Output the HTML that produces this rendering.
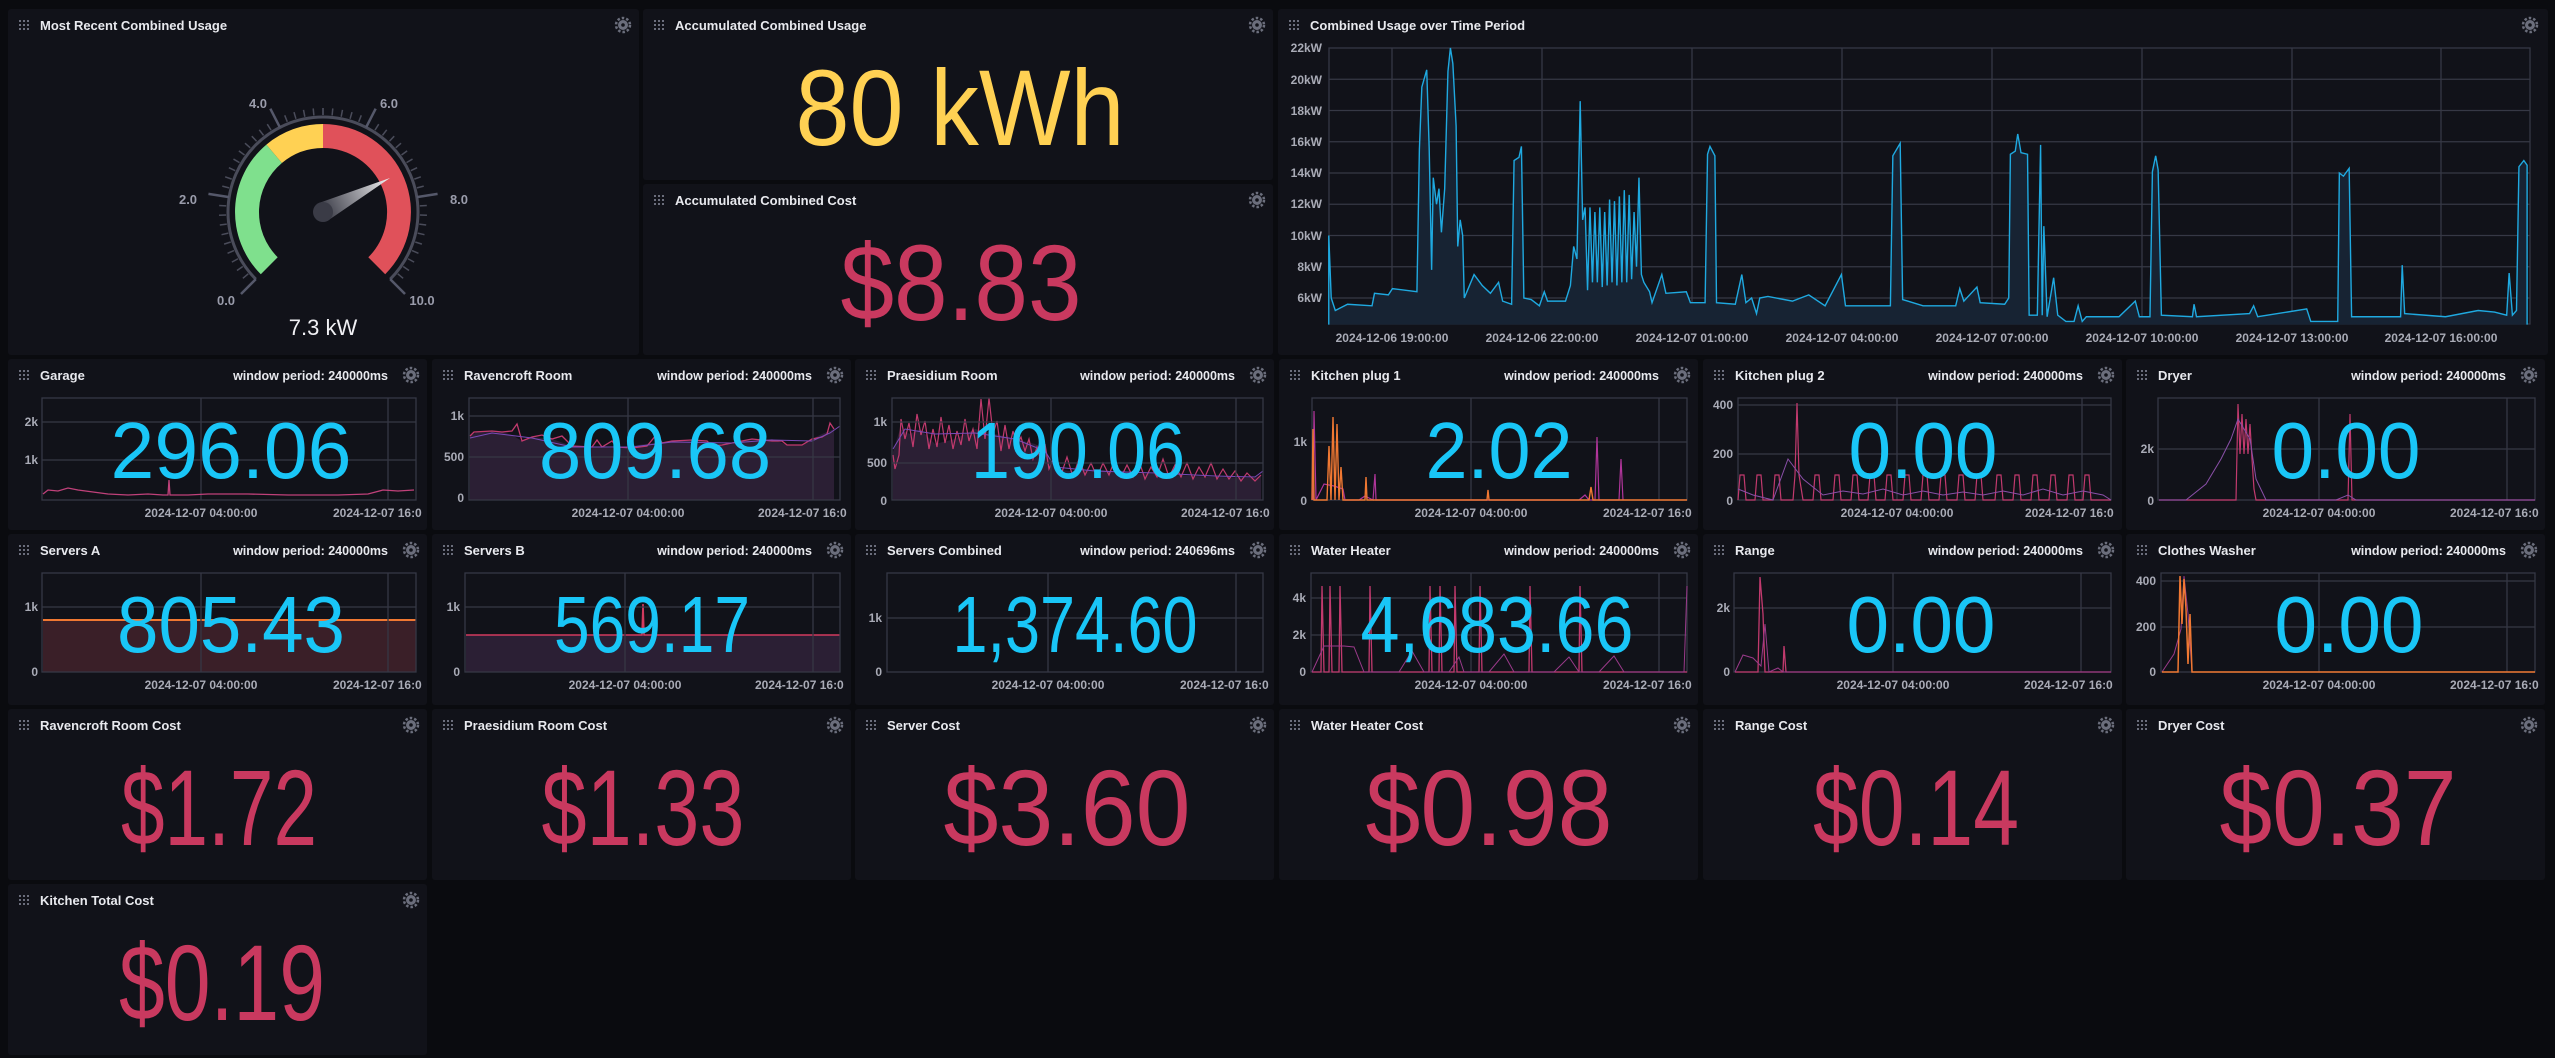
<!DOCTYPE html>
<html><head><meta charset="utf-8"><style>
html,body{margin:0;padding:0;background:#0a0b0f;width:2555px;height:1058px;overflow:hidden}
svg{display:block}
.t{font-family:"Liberation Sans",sans-serif;font-weight:bold;font-size:13px;fill:#e8e9ee}
.wp{font-family:"Liberation Sans",sans-serif;font-weight:bold;font-size:12.5px;fill:#e8e9ee;text-anchor:end}
.ax{font-family:"Liberation Sans",sans-serif;font-weight:bold;font-size:12px;fill:#a9abb6}
.big{font-family:"DejaVu Sans ExtraLight","Liberation Sans",sans-serif;font-weight:200;text-anchor:middle}
.g{stroke:#363845;stroke-width:1.3;fill:none}
.pl{fill:#111219}
</style></head><body>
<svg width="2555" height="1058" viewBox="0 0 2555 1058">
<defs>
<g id="dots" fill="#6b6e7c"><rect x="0" y="0" width="2" height="2"/><rect x="4" y="0" width="2" height="2"/><rect x="8" y="0" width="2" height="2"/><rect x="0" y="4" width="2" height="2"/><rect x="4" y="4" width="2" height="2"/><rect x="8" y="4" width="2" height="2"/><rect x="0" y="8" width="2" height="2"/><rect x="4" y="8" width="2" height="2"/><rect x="8" y="8" width="2" height="2"/></g>
<g id="gear"><circle r="5" fill="#6b6e7c"/><circle r="7" fill="none" stroke="#6b6e7c" stroke-width="2.5" stroke-dasharray="2.5 2"/><circle r="1.8" fill="#111219"/></g>
<linearGradient id="ng" gradientUnits="userSpaceOnUse" x1="0" y1="0" x2="67" y2="-34"><stop offset="0" stop-color="#3a3b46"/><stop offset="1" stop-color="#f2f2f4"/></linearGradient>
</defs>

<!-- Row 1 panels -->
<rect class="pl" x="8" y="9" width="631" height="346" rx="3"/>
<use href="#dots" x="19" y="20"/><text class="t" x="40" y="30">Most Recent Combined Usage</text><use href="#gear" x="623" y="25"/>
<rect class="pl" x="643" y="9" width="630" height="171" rx="3"/>
<use href="#dots" x="654" y="20"/><text class="t" x="675" y="30">Accumulated Combined Usage</text><use href="#gear" x="1257" y="25"/>
<text class="big" x="960" y="145" font-size="108" fill="#ffd153" textLength="329" lengthAdjust="spacingAndGlyphs">80 kWh</text>
<rect class="pl" x="643" y="184" width="630" height="171" rx="3"/>
<use href="#dots" x="654" y="195"/><text class="t" x="675" y="205">Accumulated Combined Cost</text><use href="#gear" x="1257" y="200"/>
<text class="big" x="961" y="320" font-size="108" fill="#c9395f" textLength="241" lengthAdjust="spacingAndGlyphs">$8.83</text>

<!-- Gauge -->
<g transform="translate(323,212)">
  <path d="M -67.2 67.2 A 95 95 0 1 1 67.2 67.2" fill="none" stroke="#4a4c5a" stroke-width="3"/>
  <g stroke="#4a4c5a" stroke-width="1.5">
    <g id="tk">
    <line x1="0" y1="-97" x2="0" y2="-104" transform="rotate(-135)"/><line x1="0" y1="-97" x2="0" y2="-104" transform="rotate(-129.6)"/><line x1="0" y1="-97" x2="0" y2="-104" transform="rotate(-124.2)"/><line x1="0" y1="-97" x2="0" y2="-104" transform="rotate(-118.8)"/><line x1="0" y1="-97" x2="0" y2="-104" transform="rotate(-113.4)"/><line x1="0" y1="-97" x2="0" y2="-104" transform="rotate(-108)"/><line x1="0" y1="-97" x2="0" y2="-104" transform="rotate(-102.6)"/><line x1="0" y1="-97" x2="0" y2="-104" transform="rotate(-97.2)"/><line x1="0" y1="-97" x2="0" y2="-104" transform="rotate(-91.8)"/><line x1="0" y1="-97" x2="0" y2="-104" transform="rotate(-86.4)"/><line x1="0" y1="-97" x2="0" y2="-104" transform="rotate(-81)"/><line x1="0" y1="-97" x2="0" y2="-104" transform="rotate(-75.6)"/><line x1="0" y1="-97" x2="0" y2="-104" transform="rotate(-70.2)"/><line x1="0" y1="-97" x2="0" y2="-104" transform="rotate(-64.8)"/><line x1="0" y1="-97" x2="0" y2="-104" transform="rotate(-59.4)"/><line x1="0" y1="-97" x2="0" y2="-104" transform="rotate(-54)"/><line x1="0" y1="-97" x2="0" y2="-104" transform="rotate(-48.6)"/><line x1="0" y1="-97" x2="0" y2="-104" transform="rotate(-43.2)"/><line x1="0" y1="-97" x2="0" y2="-104" transform="rotate(-37.8)"/><line x1="0" y1="-97" x2="0" y2="-104" transform="rotate(-32.4)"/><line x1="0" y1="-97" x2="0" y2="-104" transform="rotate(-27)"/><line x1="0" y1="-97" x2="0" y2="-104" transform="rotate(-21.6)"/><line x1="0" y1="-97" x2="0" y2="-104" transform="rotate(-16.2)"/><line x1="0" y1="-97" x2="0" y2="-104" transform="rotate(-10.8)"/><line x1="0" y1="-97" x2="0" y2="-104" transform="rotate(-5.4)"/><line x1="0" y1="-97" x2="0" y2="-104" transform="rotate(0)"/>
    </g>
    <use href="#tk" transform="scale(-1,1)"/>
  </g>
  <g stroke="#55586a" stroke-width="2.5">
    <line x1="0" y1="-95" x2="0" y2="-116" transform="rotate(-135)"/><line x1="0" y1="-95" x2="0" y2="-116" transform="rotate(-81)"/><line x1="0" y1="-95" x2="0" y2="-116" transform="rotate(-27)"/><line x1="0" y1="-95" x2="0" y2="-116" transform="rotate(27)"/><line x1="0" y1="-95" x2="0" y2="-116" transform="rotate(81)"/><line x1="0" y1="-95" x2="0" y2="-116" transform="rotate(135)"/>
  </g>
  <path d="M -62.2 62.2 A 88 88 0 0 1 -56.6 -67.4 L -41.1 -49 A 64 64 0 0 0 -45.3 45.3 Z" fill="#7fe08d"/>
  <path d="M -56.6 -67.4 A 88 88 0 0 1 0 -88 L 0 -64 A 64 64 0 0 0 -41.1 -49 Z" fill="#ffd153"/>
  <path d="M 0 -88 A 88 88 0 0 1 62.2 62.2 L 45.3 45.3 A 64 64 0 0 0 0 -64 Z" fill="#e0515a"/>
  <g font-family="Liberation Sans,sans-serif" font-size="13" font-weight="bold" fill="#9a9cab" text-anchor="middle">
    <text x="-97" y="93">0.0</text><text x="-135" y="-8">2.0</text><text x="-65" y="-104">4.0</text><text x="66" y="-104">6.0</text><text x="136" y="-8">8.0</text><text x="99" y="93">10.0</text>
  </g>
  <path d="M -4.5 -8.9 L 67 -34 L 4.5 8.9 Z" fill="url(#ng)"/>
  <circle cx="0" cy="0" r="10" fill="#3a3b46"/>
  <text x="0" y="123" font-family="Liberation Sans,sans-serif" font-size="22" fill="#f0f0f4" text-anchor="middle">7.3 kW</text>
</g>

<!-- Combined chart -->
<rect class="pl" x="1278" y="9" width="1270" height="346" rx="3"/>
<use href="#dots" x="1289" y="20"/><text class="t" x="1310" y="30">Combined Usage over Time Period</text><use href="#gear" x="2530" y="25"/>
<g class="g">
<rect x="1329" y="48" width="1201" height="276"/>
<line x1="1329" x2="2530" y1="79.25" y2="79.25"/><line x1="1329" x2="2530" y1="110.5" y2="110.5"/><line x1="1329" x2="2530" y1="141.75" y2="141.75"/><line x1="1329" x2="2530" y1="173" y2="173"/><line x1="1329" x2="2530" y1="204.25" y2="204.25"/><line x1="1329" x2="2530" y1="235.5" y2="235.5"/><line x1="1329" x2="2530" y1="266.75" y2="266.75"/><line x1="1329" x2="2530" y1="298" y2="298"/>
<line x1="1392" x2="1392" y1="48" y2="324"/><line x1="1542" x2="1542" y1="48" y2="324"/><line x1="1692" x2="1692" y1="48" y2="324"/><line x1="1842" x2="1842" y1="48" y2="324"/><line x1="1992" x2="1992" y1="48" y2="324"/><line x1="2142" x2="2142" y1="48" y2="324"/><line x1="2292" x2="2292" y1="48" y2="324"/><line x1="2441" x2="2441" y1="48" y2="324"/>
</g>
<g class="ax" text-anchor="end">
<text x="1322" y="52">22kW</text><text x="1322" y="84">20kW</text><text x="1322" y="115">18kW</text><text x="1322" y="146">16kW</text><text x="1322" y="177">14kW</text><text x="1322" y="208">12kW</text><text x="1322" y="240">10kW</text><text x="1322" y="271">8kW</text><text x="1322" y="302">6kW</text>
</g>
<g class="ax" text-anchor="middle">
<text x="1392" y="342">2024-12-06 19:00:00</text><text x="1542" y="342">2024-12-06 22:00:00</text><text x="1692" y="342">2024-12-07 01:00:00</text><text x="1842" y="342">2024-12-07 04:00:00</text><text x="1992" y="342">2024-12-07 07:00:00</text><text x="2142" y="342">2024-12-07 10:00:00</text><text x="2292" y="342">2024-12-07 13:00:00</text><text x="2441" y="342">2024-12-07 16:00:00</text>
</g>
<g transform="matrix(0.8163 0 0 -15.625 1270 391.75)">
<polyline vector-effect="non-scaling-stroke" fill="#172333" stroke="#1fa9e0" stroke-width="1.4" points="72,4.3 72,10 75,6 80,5.2 95,5.6 125,5.5 128,6.3 145,6.2 150,6.6 180,6.4 183,15.5 186,19.5 192,20.6 195,15.6 198,7.8 200,13.7 204,12 207,13 210,10.2 214,13 218,20.5 221,22 224,21 228,17 230,9.3 233,11 236,10 238,6 250,7.5 260,6.8 270,6.3 280,7 285,5.8 296,5.6 299,14.8 305,15 308,15.7 311,6 320,5.9 330,5.5 336,6.4 340,5.8 362,5.8 368,6.8 372,9.3 376,8.5 380,18.6 383,11 386,11.8 389,6.5 392,11.8 395,7 398,11.5 401,7 404,11.8 407,6.7 410,11.5 413,6.8 416,12.3 419,7 422,12.2 425,6.8 428,12.5 431,7 434,12.9 437,7 440,12.6 443,7.2 446,11.5 449,8 452,13.7 455,7.5 458,7 465,6.4 468,5.7 480,7.5 485,6.3 510,6.4 515,5.7 533,5.7 536,15.2 539,15.7 545,15.1 547,5.7 570,5.6 578,7.5 583,5.7 590,6 596,5 600,6 610,6.1 640,5.8 660,6.2 680,5.5 700,7.5 705,5.5 760,5.5 763,15.1 772,15.9 775,5.9 800,5.5 840,5.5 845,6.6 850,5.8 866,6.7 870,5.7 900,5.6 905,6 907,15.2 913,15.4 916,16.5 920,15.3 928,15.2 930,4.9 940,4.9 944,15.8 946,4.9 948,10.6 952,4.8 960,7.3 965,4.9 975,4.5 985,4.5 990,5.5 995,4.5 1000,4.8 1040,4.8 1060,5.8 1065,4.8 1078,4.8 1081,14.1 1085,15.1 1088,14.2 1092,4.9 1130,4.8 1132,5.6 1135,4.8 1200,5 1205,5.5 1210,4.8 1270,5.3 1275,4.5 1300,4.5 1308,4.5 1310,14 1315,13.8 1322,14.3 1325,4.8 1385,4.8 1387,8.1 1390,5 1440,4.8 1480,5.2 1500,5.1 1515,4.9 1518,7.6 1522,4.9 1527,5.2 1530,14.4 1536,14.8 1540,14.5 1540,4.3"/>
</g>

<!-- Row 2 -->
<g transform="translate(8,359)">
<rect class="pl" width="419" height="171" rx="3"/><use href="#dots" x="11" y="11"/><text class="t" x="32" y="21">Garage</text><text class="wp" x="380" y="21">window period: 240000ms</text><use href="#gear" x="403" y="16"/>
<g class="g"><rect x="34" y="39" width="374" height="102"/><line x1="34" x2="408" y1="63" y2="63"/><line x1="34" x2="408" y1="101" y2="101"/><line x1="193" x2="193" y1="39" y2="141"/><line x1="380" x2="380" y1="39" y2="141"/></g>
<g class="ax" text-anchor="end"><text x="30" y="67">2k</text><text x="30" y="105">1k</text></g>
<g class="ax" text-anchor="middle"><text x="193" y="158">2024-12-07 04:00:00</text></g><text class="ax" x="325" y="158">2024-12-07 16:0</text>
<polyline fill="none" stroke="#c0417a" stroke-width="1.3" points="35,135 40,131 50,132 60,129 70,131 85,133 100,135 120,136 140,135 155,136 160,136 161,121 162,136 180,136 200,135 240,135 280,136 330,136 360,135 375,131 390,132 406,131"/>
<text class="big" x="223" y="119" font-size="80" fill="#19c6f7" textLength="241" lengthAdjust="spacingAndGlyphs">296.06</text>
</g>

<g transform="translate(432,359)">
<rect class="pl" width="419" height="171" rx="3"/><use href="#dots" x="11" y="11"/><text class="t" x="32" y="21">Ravencroft Room</text><text class="wp" x="380" y="21">window period: 240000ms</text><use href="#gear" x="403" y="16"/>
<polygon fill="#2b1f34" points="38,141 38,77 45,73 60,72 70,73 80,76 90,82 100,78 120,80 140,87 160,88 180,89 200,87 220,84 240,82 260,82 275,82 290,86 300,85 320,80 340,80 355,86 370,86 380,80 390,75 402,70 402,141"/>
<polyline fill="none" stroke="#c23a6e" stroke-width="1.3" points="38,77 42,73 60,72 70,73 80,72 85,65 90,82 100,78 110,76 120,80 130,77 140,87 160,88 165,81 170,88 180,82 185,88 200,89 215,87 225,75 230,84 240,82 260,81 275,82 280,87 290,86 300,84 320,80 340,82 350,82 355,86 370,86 380,80 390,78 395,75 398,64 402,70"/>
<polyline fill="none" stroke="#7a4ab8" stroke-width="1" points="38,79 60,74 100,79 140,88 200,88 240,83 300,84 340,81 380,82 398,74 408,67"/>
<g class="g"><rect x="37" y="39" width="371" height="102"/><line x1="37" x2="408" y1="57" y2="57"/><line x1="37" x2="408" y1="98" y2="98"/><line x1="196" x2="196" y1="39" y2="141"/><line x1="381" x2="381" y1="39" y2="141"/></g>
<g class="ax" text-anchor="end"><text x="32" y="61">1k</text><text x="32" y="102">500</text><text x="32" y="143">0</text></g>
<g class="ax" text-anchor="middle"><text x="196" y="158">2024-12-07 04:00:00</text></g><text class="ax" x="326" y="158">2024-12-07 16:0</text>
<text class="big" x="223" y="119" font-size="80" fill="#19c6f7" textLength="232" lengthAdjust="spacingAndGlyphs">809.68</text>
</g>

<g transform="translate(855,359)">
<rect class="pl" width="419" height="171" rx="3"/><use href="#dots" x="11" y="11"/><text class="t" x="32" y="21">Praesidium Room</text><text class="wp" x="380" y="21">window period: 240000ms</text><use href="#gear" x="403" y="16"/>
<polygon fill="#2b1f34" points="38,141 38,93 45,70 55,75 65,70 80,85 100,80 120,70 140,75 160,80 180,85 190,90 200,110 215,112 240,110 260,113 300,115 340,117 360,118 400,119 406,116 406,141"/>
<polyline fill="none" stroke="#c23a6e" stroke-width="1.2" points="38,96 40,110 44,96 46,60 50,80 54,64 58,88 62,55 66,76 70,62 74,90 78,70 82,88 86,58 90,84 94,66 98,90 102,72 106,86 110,60 114,82 118,70 122,90 126,40 130,80 134,39 138,75 142,62 146,92 150,66 154,90 158,72 162,86 166,78 170,92 174,80 178,100 182,88 186,102 190,85 194,110 200,96 206,116 212,98 218,118 224,100 230,116 236,104 242,118 248,104 254,116 260,100 266,118 272,106 278,118 284,102 290,120 296,108 302,118 308,100 314,118 320,106 326,118 332,104 338,120 344,108 350,118 356,104 362,120 368,110 374,120 380,112 386,122 392,114 400,122 406,116"/>
<polyline fill="none" stroke="#7a4ab8" stroke-width="1" points="38,90 50,70 80,75 120,74 160,80 190,92 200,108 240,112 300,114 360,117 400,118 408,112"/>
<g class="g"><rect x="37" y="39" width="371" height="102"/><line x1="37" x2="408" y1="63" y2="63"/><line x1="37" x2="408" y1="104" y2="104"/><line x1="196" x2="196" y1="39" y2="141"/><line x1="381" x2="381" y1="39" y2="141"/></g>
<g class="ax" text-anchor="end"><text x="32" y="67">1k</text><text x="32" y="108">500</text><text x="32" y="146">0</text></g>
<g class="ax" text-anchor="middle"><text x="196" y="158">2024-12-07 04:00:00</text></g><text class="ax" x="326" y="158">2024-12-07 16:0</text>
<text class="big" x="223" y="119" font-size="80" fill="#19c6f7" textLength="214" lengthAdjust="spacingAndGlyphs">190.06</text>
</g>

<g transform="translate(1279,359)">
<rect class="pl" width="419" height="171" rx="3"/><use href="#dots" x="11" y="11"/><text class="t" x="32" y="21">Kitchen plug 1</text><text class="wp" x="380" y="21">window period: 240000ms</text><use href="#gear" x="403" y="16"/>
<g class="g"><rect x="33" y="39" width="375" height="102"/><line x1="33" x2="408" y1="83" y2="83"/><line x1="192" x2="192" y1="39" y2="141"/><line x1="380" x2="380" y1="39" y2="141"/></g>
<g class="ax" text-anchor="end"><text x="28" y="87">1k</text><text x="28" y="146">0</text></g>
<g class="ax" text-anchor="middle"><text x="192" y="158">2024-12-07 04:00:00</text></g><text class="ax" x="324" y="158">2024-12-07 16:0</text>
<polyline fill="none" stroke="#b0359a" stroke-width="1.2" points="34,141 35,52 37,141 45,125 55,127 64,130 66,141 80,141 86,137 90,139 94,141 96,115 97,141 300,141 306,136 310,141 316,141 318,78 320,141 340,141 342,100 344,141"/>
<polyline fill="none" stroke="#f07832" stroke-width="1.4" points="33,141 34,70 35,141 48,141 50,87 52,141 54,58 56,141 58,65 60,141 62,108 64,141 86,141 87,118 88,141 200,141 208,141 209,131 210,141 310,141 312,128 314,141 350,141 408,141"/>
<text class="big" x="220" y="119" font-size="80" fill="#19c6f7" textLength="147" lengthAdjust="spacingAndGlyphs">2.02</text>
</g>

<g transform="translate(1703,359)">
<rect class="pl" width="419" height="171" rx="3"/><use href="#dots" x="11" y="11"/><text class="t" x="32" y="21">Kitchen plug 2</text><text class="wp" x="380" y="21">window period: 240000ms</text><use href="#gear" x="403" y="16"/>
<g class="g"><rect x="35" y="39" width="373" height="102"/><line x1="35" x2="408" y1="46" y2="46"/><line x1="35" x2="408" y1="95" y2="95"/><line x1="194" x2="194" y1="39" y2="141"/><line x1="379" x2="379" y1="39" y2="141"/></g>
<g class="ax" text-anchor="end"><text x="30" y="50">400</text><text x="30" y="99">200</text><text x="30" y="146">0</text></g>
<g class="ax" text-anchor="middle"><text x="194" y="158">2024-12-07 04:00:00</text></g><text class="ax" x="322" y="158">2024-12-07 16:0</text>
<polyline fill="none" stroke="#c23a6e" stroke-width="1.2" points="35,141 37,116 41,116 43,141 52,141 54,116 58,116 60,141 70,141 72,116 76,116 78,141 90,141 92,116 94,44 96,116 100,141 110,141 112,116 116,116 118,141 130,141 132,116 136,116 138,141 148,141 150,116 154,116 156,141 165,141 167,116 171,116 173,141 182,141 184,116 188,116 190,141 200,141 202,116 206,116 208,141 218,141 220,116 224,116 226,141 236,141 238,116 242,116 244,141 254,141 256,116 260,116 262,141 272,141 274,116 278,116 280,141 292,141 294,116 298,116 300,141 310,141 312,116 316,116 318,141 328,141 330,116 334,116 336,141 346,141 348,116 352,116 354,141 364,141 366,116 370,116 372,141 380,141 382,116 386,116 388,141 408,141"/>
<polyline fill="none" stroke="#8a4fa8" stroke-width="1" points="35,130 50,136 70,141 85,100 100,120 120,136 140,132 160,135 180,130 200,136 220,132 240,136 260,133 280,136 300,132 320,136 340,130 360,136 380,132 400,136 408,141"/>
<text class="big" x="220" y="119" font-size="80" fill="#19c6f7" textLength="149" lengthAdjust="spacingAndGlyphs">0.00</text>
</g>

<g transform="translate(2126,359)">
<rect class="pl" width="419" height="171" rx="3"/><use href="#dots" x="11" y="11"/><text class="t" x="32" y="21">Dryer</text><text class="wp" x="380" y="21">window period: 240000ms</text><use href="#gear" x="403" y="16"/>
<g class="g"><rect x="32" y="39" width="377" height="102"/><line x1="32" x2="409" y1="90" y2="90"/><line x1="193" x2="193" y1="39" y2="141"/><line x1="381" x2="381" y1="39" y2="141"/></g>
<g class="ax" text-anchor="end"><text x="28" y="94">2k</text><text x="28" y="146">0</text></g>
<g class="ax" text-anchor="middle"><text x="193" y="158">2024-12-07 04:00:00</text></g><text class="ax" x="324" y="158">2024-12-07 16:0</text>
<polyline fill="none" stroke="#c23a6e" stroke-width="1.2" points="33,141 110,141 112,45 114,95 116,55 118,95 120,60 122,95 124,65 126,100 128,130 130,141 222,141 224,55 226,141 409,141"/>
<polyline fill="none" stroke="#8a4fa8" stroke-width="1" points="33,141 60,141 80,125 95,100 105,80 112,60 118,70 124,80 130,120 140,141 210,141 222,136 230,141 409,141"/>
<text class="big" x="220" y="119" font-size="80" fill="#19c6f7" textLength="149" lengthAdjust="spacingAndGlyphs">0.00</text>
</g>

<!-- Row 3 -->
<g transform="translate(8,534)">
<rect class="pl" width="419" height="171" rx="3"/><use href="#dots" x="11" y="11"/><text class="t" x="32" y="21">Servers A</text><text class="wp" x="380" y="21">window period: 240000ms</text><use href="#gear" x="403" y="16"/>
<rect x="35" y="86" width="373" height="52" fill="#3a1f28"/>
<line x1="35" x2="408" y1="86" y2="86" stroke="#f07832" stroke-width="2"/>
<g class="g"><rect x="34" y="39" width="374" height="99"/><line x1="34" x2="408" y1="73" y2="73"/><line x1="193" x2="193" y1="39" y2="138"/><line x1="380" x2="380" y1="39" y2="138"/></g>
<g class="ax" text-anchor="end"><text x="30" y="77">1k</text><text x="30" y="142">0</text></g>
<g class="ax" text-anchor="middle"><text x="193" y="155">2024-12-07 04:00:00</text></g><text class="ax" x="325" y="155">2024-12-07 16:0</text>
<text class="big" x="223" y="118" font-size="80" fill="#19c6f7" textLength="228" lengthAdjust="spacingAndGlyphs">805.43</text>
</g>

<g transform="translate(432,534)">
<rect class="pl" width="419" height="171" rx="3"/><use href="#dots" x="11" y="11"/><text class="t" x="32" y="21">Servers B</text><text class="wp" x="380" y="21">window period: 240000ms</text><use href="#gear" x="403" y="16"/>
<rect x="34" y="101" width="374" height="37" fill="#2b1f34"/>
<polyline fill="none" stroke="#d23a5e" stroke-width="1.6" points="34,101 210,101 211,70 212,101 408,101"/>
<g class="g"><rect x="33" y="39" width="375" height="99"/><line x1="33" x2="408" y1="73" y2="73"/><line x1="193" x2="193" y1="39" y2="138"/><line x1="381" x2="381" y1="39" y2="138"/></g>
<g class="ax" text-anchor="end"><text x="28" y="77">1k</text><text x="28" y="142">0</text></g>
<g class="ax" text-anchor="middle"><text x="193" y="155">2024-12-07 04:00:00</text></g><text class="ax" x="323" y="155">2024-12-07 16:0</text>
<text class="big" x="220" y="118" font-size="80" fill="#19c6f7" textLength="196" lengthAdjust="spacingAndGlyphs">569.17</text>
</g>

<g transform="translate(855,534)">
<rect class="pl" width="419" height="171" rx="3"/><use href="#dots" x="11" y="11"/><text class="t" x="32" y="21">Servers Combined</text><text class="wp" x="380" y="21">window period: 240696ms</text><use href="#gear" x="403" y="16"/>
<g class="g"><rect x="32" y="39" width="376" height="99"/><line x1="32" x2="408" y1="84" y2="84"/><line x1="193" x2="193" y1="39" y2="138"/><line x1="381" x2="381" y1="39" y2="138"/></g>
<g class="ax" text-anchor="end"><text x="27" y="88">1k</text><text x="27" y="142">0</text></g>
<g class="ax" text-anchor="middle"><text x="193" y="155">2024-12-07 04:00:00</text></g><text class="ax" x="325" y="155">2024-12-07 16:0</text>
<text class="big" x="220" y="118" font-size="80" fill="#19c6f7" textLength="245" lengthAdjust="spacingAndGlyphs">1,374.60</text>
</g>

<g transform="translate(1279,534)">
<rect class="pl" width="419" height="171" rx="3"/><use href="#dots" x="11" y="11"/><text class="t" x="32" y="21">Water Heater</text><text class="wp" x="380" y="21">window period: 240000ms</text><use href="#gear" x="403" y="16"/>
<g class="g"><rect x="32" y="39" width="376" height="99"/><line x1="32" x2="408" y1="64" y2="64"/><line x1="32" x2="408" y1="101" y2="101"/><line x1="192" x2="192" y1="39" y2="138"/><line x1="380" x2="380" y1="39" y2="138"/></g>
<g class="ax" text-anchor="end"><text x="27" y="68">4k</text><text x="27" y="105">2k</text><text x="27" y="142">0</text></g>
<g class="ax" text-anchor="middle"><text x="192" y="155">2024-12-07 04:00:00</text></g><text class="ax" x="324" y="155">2024-12-07 16:0</text>
<polyline fill="none" stroke="#c23a6e" stroke-width="1.3" points="33,138 42,138 43,52 45,138 50,138 51,52 53,138 60,138 61,52 63,138 90,138 91,52 93,138 150,138 151,52 153,138 160,138 161,52 163,138 175,138 176,52 178,138 200,138 201,52 203,138 250,138 251,52 253,138 300,138 301,52 303,138 408,138"/>
<polyline fill="none" stroke="#9a3a8a" stroke-width="1" points="33,138 45,112 65,112 75,113 85,138 120,138 133,117 145,138 170,138 180,123 185,138 210,138 225,120 235,138 275,138 290,123 300,138 320,138 335,122 345,138 405,138 408,52"/>
<text class="big" x="218" y="118" font-size="80" fill="#19c6f7" textLength="273" lengthAdjust="spacingAndGlyphs">4,683.66</text>
</g>

<g transform="translate(1703,534)">
<rect class="pl" width="419" height="171" rx="3"/><use href="#dots" x="11" y="11"/><text class="t" x="32" y="21">Range</text><text class="wp" x="380" y="21">window period: 240000ms</text><use href="#gear" x="403" y="16"/>
<g class="g"><rect x="31" y="39" width="377" height="99"/><line x1="31" x2="408" y1="74" y2="74"/><line x1="190" x2="190" y1="39" y2="138"/><line x1="378" x2="378" y1="39" y2="138"/></g>
<g class="ax" text-anchor="end"><text x="27" y="78">2k</text><text x="27" y="142">0</text></g>
<g class="ax" text-anchor="middle"><text x="190" y="155">2024-12-07 04:00:00</text></g><text class="ax" x="321" y="155">2024-12-07 16:0</text>
<polyline fill="none" stroke="#c23a6e" stroke-width="1.3" points="32,138 55,138 57,43 60,80 62,138 80,138 81,112 83,138 408,138"/>
<polyline fill="none" stroke="#9a3a8a" stroke-width="1" points="32,138 40,121 50,124 58,132 62,90 66,138 75,134 80,138 408,138"/>
<text class="big" x="218" y="118" font-size="80" fill="#19c6f7" textLength="149" lengthAdjust="spacingAndGlyphs">0.00</text>
</g>

<g transform="translate(2126,534)">
<rect class="pl" width="419" height="171" rx="3"/><use href="#dots" x="11" y="11"/><text class="t" x="32" y="21">Clothes Washer</text><text class="wp" x="380" y="21">window period: 240000ms</text><use href="#gear" x="403" y="16"/>
<g class="g"><rect x="35" y="39" width="374" height="99"/><line x1="35" x2="409" y1="47" y2="47"/><line x1="35" x2="409" y1="93" y2="93"/><line x1="193" x2="193" y1="39" y2="138"/><line x1="381" x2="381" y1="39" y2="138"/></g>
<g class="ax" text-anchor="end"><text x="30" y="51">400</text><text x="30" y="97">200</text><text x="30" y="142">0</text></g>
<g class="ax" text-anchor="middle"><text x="193" y="155">2024-12-07 04:00:00</text></g><text class="ax" x="324" y="155">2024-12-07 16:0</text>
<polyline fill="none" stroke="#9a3a8a" stroke-width="1" points="36,138 48,120 55,95 58,42 62,80 66,138 409,138"/>
<polyline fill="none" stroke="#f07832" stroke-width="1.5" points="36,138 52,138 54,42 56,90 58,45 60,75 62,130 64,80 66,138 409,138"/>
<text class="big" x="223" y="118" font-size="80" fill="#19c6f7" textLength="149" lengthAdjust="spacingAndGlyphs">0.00</text>
</g>

<!-- Row 4 cost -->
<g transform="translate(8,709)"><rect class="pl" width="419" height="171" rx="3"/><use href="#dots" x="11" y="11"/><text class="t" x="32" y="21">Ravencroft Room Cost</text><use href="#gear" x="403" y="16"/>
<text class="big" x="211" y="136" font-size="108" fill="#c9395f" textLength="196" lengthAdjust="spacingAndGlyphs">$1.72</text></g>
<g transform="translate(432,709)"><rect class="pl" width="419" height="171" rx="3"/><use href="#dots" x="11" y="11"/><text class="t" x="32" y="21">Praesidium Room Cost</text><use href="#gear" x="403" y="16"/>
<text class="big" x="211" y="136" font-size="108" fill="#c9395f" textLength="203" lengthAdjust="spacingAndGlyphs">$1.33</text></g>
<g transform="translate(855,709)"><rect class="pl" width="419" height="171" rx="3"/><use href="#dots" x="11" y="11"/><text class="t" x="32" y="21">Server Cost</text><use href="#gear" x="403" y="16"/>
<text class="big" x="212" y="136" font-size="108" fill="#c9395f" textLength="247" lengthAdjust="spacingAndGlyphs">$3.60</text></g>
<g transform="translate(1279,709)"><rect class="pl" width="419" height="171" rx="3"/><use href="#dots" x="11" y="11"/><text class="t" x="32" y="21">Water Heater Cost</text><use href="#gear" x="403" y="16"/>
<text class="big" x="210" y="136" font-size="108" fill="#c9395f" textLength="247" lengthAdjust="spacingAndGlyphs">$0.98</text></g>
<g transform="translate(1703,709)"><rect class="pl" width="419" height="171" rx="3"/><use href="#dots" x="11" y="11"/><text class="t" x="32" y="21">Range Cost</text><use href="#gear" x="403" y="16"/>
<text class="big" x="213" y="136" font-size="108" fill="#c9395f" textLength="206" lengthAdjust="spacingAndGlyphs">$0.14</text></g>
<g transform="translate(2126,709)"><rect class="pl" width="419" height="171" rx="3"/><use href="#dots" x="11" y="11"/><text class="t" x="32" y="21">Dryer Cost</text><use href="#gear" x="403" y="16"/>
<text class="big" x="212" y="136" font-size="108" fill="#c9395f" textLength="237" lengthAdjust="spacingAndGlyphs">$0.37</text></g>
<!-- Row 5 -->
<g transform="translate(8,884)"><rect class="pl" width="419" height="171" rx="3"/><use href="#dots" x="11" y="11"/><text class="t" x="32" y="21">Kitchen Total Cost</text><use href="#gear" x="403" y="16"/>
<text class="big" x="214" y="136" font-size="108" fill="#c9395f" textLength="206" lengthAdjust="spacingAndGlyphs">$0.19</text></g>
</svg>
</body></html>
